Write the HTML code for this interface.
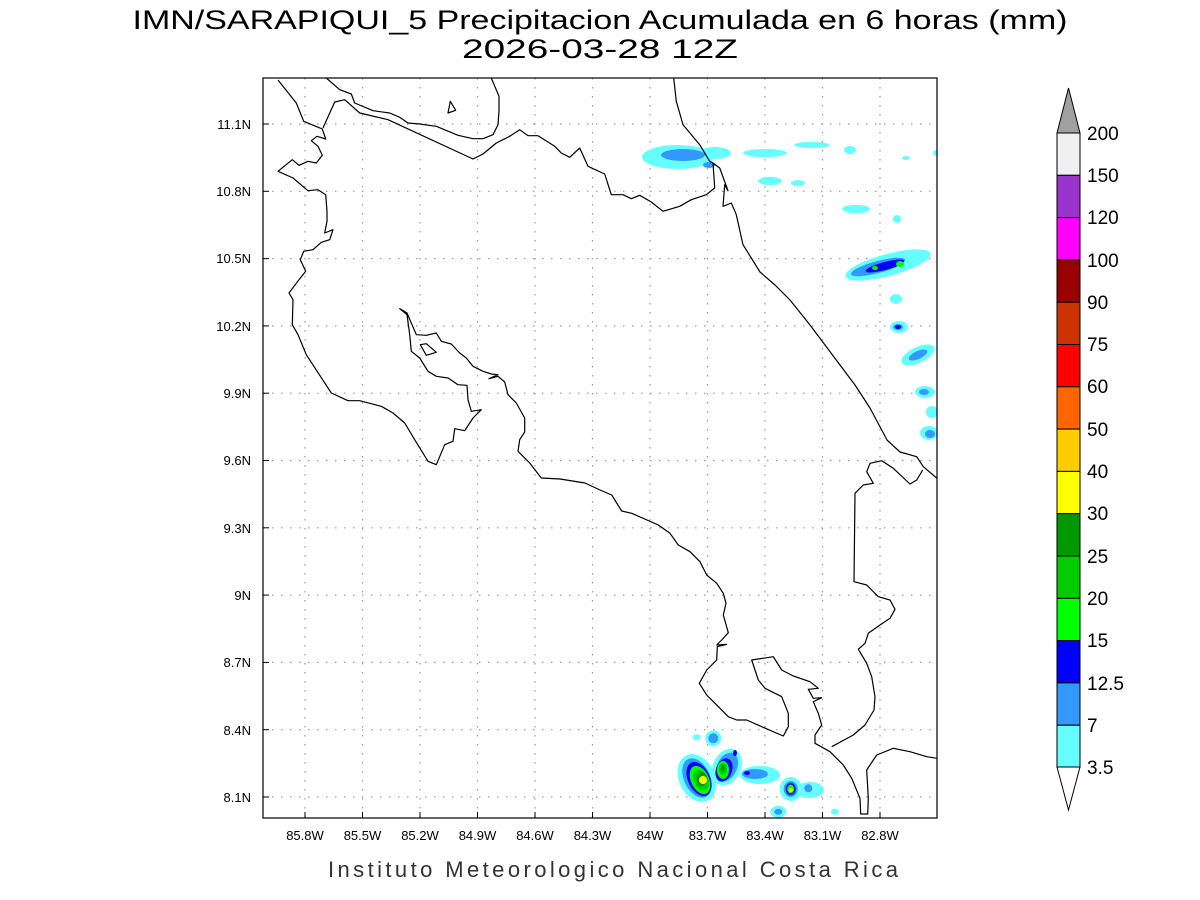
<!DOCTYPE html>
<html><head><meta charset="utf-8"><style>
html,body{margin:0;padding:0;background:#fff;}
svg{display:block;}
text{font-family:"Liberation Sans",sans-serif;}
</style></head><body>
<svg width="1200" height="900" viewBox="0 0 1200 900" xmlns="http://www.w3.org/2000/svg">
<rect width="1200" height="900" fill="#fff"/>
<text x="600" y="29" text-anchor="middle" font-size="27" fill="#000" textLength="935" lengthAdjust="spacingAndGlyphs">IMN/SARAPIQUI_5 Precipitacion Acumulada en 6 horas (mm)</text>
<text x="600" y="58" text-anchor="middle" font-size="27" fill="#000" textLength="276" lengthAdjust="spacingAndGlyphs">2026-03-28 12Z</text>
<defs><clipPath id="c"><rect x="263" y="78" width="674" height="740"/></clipPath></defs>
<g clip-path="url(#c)">
<!-- grid -->
<g stroke="#9a9a9a" stroke-width="1.2" stroke-dasharray="1.5,7.5">
<line x1="305" y1="78" x2="305" y2="818"/><line x1="362.5" y1="78" x2="362.5" y2="818"/><line x1="420" y1="78" x2="420" y2="818"/><line x1="477.5" y1="78" x2="477.5" y2="818"/><line x1="535" y1="78" x2="535" y2="818"/><line x1="592.5" y1="78" x2="592.5" y2="818"/><line x1="650" y1="78" x2="650" y2="818"/><line x1="707.5" y1="78" x2="707.5" y2="818"/><line x1="765" y1="78" x2="765" y2="818"/><line x1="822.5" y1="78" x2="822.5" y2="818"/><line x1="880" y1="78" x2="880" y2="818"/>
<line x1="263" y1="124" x2="937" y2="124"/><line x1="263" y1="191.3" x2="937" y2="191.3"/><line x1="263" y1="258.6" x2="937" y2="258.6"/><line x1="263" y1="325.9" x2="937" y2="325.9"/><line x1="263" y1="393.2" x2="937" y2="393.2"/><line x1="263" y1="460.5" x2="937" y2="460.5"/><line x1="263" y1="527.8" x2="937" y2="527.8"/><line x1="263" y1="595.1" x2="937" y2="595.1"/><line x1="263" y1="662.4" x2="937" y2="662.4"/><line x1="263" y1="729.7" x2="937" y2="729.7"/><line x1="263" y1="797" x2="937" y2="797"/>
</g>
<!-- precip -->
<g fill="#66ffff">
<ellipse cx="678" cy="157" rx="36" ry="12"/><ellipse cx="715" cy="153" rx="16" ry="6"/>
<ellipse cx="765" cy="153" rx="22" ry="4"/><ellipse cx="812" cy="145" rx="18" ry="3"/><ellipse cx="850" cy="150" rx="6" ry="4"/>
<ellipse cx="770" cy="181" rx="12" ry="4"/><ellipse cx="798" cy="183" rx="7" ry="3"/>
<ellipse cx="856" cy="209" rx="14" ry="4"/><ellipse cx="897" cy="219" rx="4" ry="4"/><ellipse cx="906" cy="158" rx="4" ry="2"/><ellipse cx="936" cy="153" rx="3" ry="3"/>
<ellipse cx="888" cy="265" rx="44" ry="11" transform="rotate(-15 888 265)"/>
<ellipse cx="896" cy="299" rx="6" ry="5"/><ellipse cx="899" cy="327" rx="9" ry="6"/>
<ellipse cx="918" cy="355" rx="18" ry="8" transform="rotate(-25 918 355)"/>
<ellipse cx="925" cy="392" rx="10" ry="6"/><ellipse cx="932" cy="412" rx="6" ry="6"/><ellipse cx="929" cy="433" rx="9" ry="7"/>
<ellipse cx="696.7" cy="737.3" rx="4" ry="3"/><ellipse cx="713.3" cy="738.3" rx="8" ry="8"/>
<ellipse cx="697" cy="778" rx="18" ry="25" transform="rotate(-25 697 778)"/>
<ellipse cx="727" cy="767" rx="14" ry="19" transform="rotate(25 727 767)"/>
<ellipse cx="760" cy="775" rx="20" ry="9"/>
<ellipse cx="790.7" cy="789" rx="11" ry="12"/><ellipse cx="810" cy="790" rx="14" ry="8"/>
<ellipse cx="778.3" cy="811.7" rx="8" ry="6"/><ellipse cx="835" cy="811.7" rx="4" ry="3"/>
</g>
<g fill="#3399ff">
<ellipse cx="683" cy="155" rx="22" ry="6"/><ellipse cx="709" cy="165" rx="6" ry="3"/>
<ellipse cx="878" cy="267" rx="28" ry="6" transform="rotate(-15 878 267)"/>
<ellipse cx="898" cy="327" rx="5" ry="3"/><ellipse cx="918" cy="355" rx="10" ry="4" transform="rotate(-25 918 355)"/>
<ellipse cx="924" cy="392" rx="5" ry="3"/><ellipse cx="930" cy="434" rx="5" ry="4"/>
<ellipse cx="713.3" cy="738.3" rx="5" ry="5"/>
<ellipse cx="697" cy="778" rx="13" ry="21" transform="rotate(-25 697 778)"/>
<ellipse cx="727" cy="767" rx="10" ry="15" transform="rotate(25 727 767)"/>
<ellipse cx="755" cy="774" rx="13" ry="5"/>
<ellipse cx="790.7" cy="789" rx="7" ry="8"/><ellipse cx="808.3" cy="788.3" rx="4" ry="4"/><ellipse cx="778.3" cy="811.7" rx="4" ry="3"/>
</g>
<g fill="#0000ff">
<ellipse cx="885" cy="266" rx="20" ry="4" transform="rotate(-15 885 266)"/><ellipse cx="898" cy="327" rx="3" ry="2"/>
<ellipse cx="699" cy="779" rx="11" ry="18" transform="rotate(-25 699 779)"/>
<ellipse cx="724" cy="770" rx="8" ry="12" transform="rotate(20 724 770)"/><ellipse cx="735" cy="753" rx="2" ry="3"/>
<ellipse cx="747" cy="773" rx="3" ry="2"/><ellipse cx="790.7" cy="789" rx="5" ry="6"/>
</g>
<g fill="#00ff00"><ellipse cx="875" cy="268" rx="3" ry="2"/><ellipse cx="900" cy="264" rx="4" ry="3"/>
<ellipse cx="700" cy="780" rx="9" ry="15" transform="rotate(-25 700 780)"/><ellipse cx="723" cy="770" rx="6" ry="9"/><ellipse cx="790.7" cy="789" rx="3.5" ry="4.5"/></g>
<g fill="#00cc00"><ellipse cx="701" cy="780" rx="7" ry="11" transform="rotate(-25 701 780)"/><ellipse cx="723" cy="769" rx="4" ry="6"/></g>
<g fill="#009900"><ellipse cx="702" cy="779" rx="5" ry="7"/><ellipse cx="723" cy="768" rx="2" ry="3"/></g>
<g fill="#ffff00"><ellipse cx="703" cy="780" rx="4" ry="4"/><ellipse cx="791" cy="790" rx="2" ry="2"/></g>
<!-- coastlines -->
<g fill="none" stroke="#000" stroke-width="1.2" stroke-linejoin="round">
<polyline points="278,80 296.3,103 303.7,121.3 322.3,129 325.7,139 317,136.3 311.3,140.7 318,146.3 322.3,155.3 316.3,163 308,161.3 299,165.3 292.3,159.7 278,171.3 293,178 308,190.7 318,189.7 325.7,194.7 327,211.3 327,221.3 324.7,233 333,229.7 329.7,239.7 321.3,242.3 313,249.7 303.7,251.3 300.3,259.7 305.7,271.3 299,279.7 289,293 293,299.7 292.3,324.7 298,334.7 306.3,354.7 331.3,393 348,400.7 359.7,400.7 381.3,406.3 393,413 404.7,423 414.7,439.7 428,461.3 436.3,464.7 444.7,444.7 453,441.3 454.7,428.7 464.7,430.7 473,418 481.3,409.7 471.3,411.3 468,399.7 467,385.3 458,384.7 448,378 436.3,376.3 428,371.3 419.7,358 411.3,351.3 409.7,334.7 407,314.7 399.7,308.7 407,313 416.3,334.7 426.3,335.3 436.3,333 441.3,341.3 451.3,344 459.7,353 466.3,358 473,366.3 483,371.3 491.3,374 498,374.7 489,378.7 498,376.3 504.7,382 508,394.7 516.3,403 524.7,418 524.7,432 519.7,439.7 518,451.3 529.7,463 541.3,478 560,479 585,483 600,490 611.7,495 621.7,511 631.7,513.3 658.3,525 670,533.3 678.3,545 690,551.7 700,561.7 706.7,575 716.7,583.3 723.3,593.3 726,603.3 723.3,615 728.3,632.7 721.7,640 716.7,645 726.7,644.3 717.3,646.7 716.7,660 706.7,670 699.3,683.3 706.7,695 715,703.3 728.3,716.7 736.7,720 746.7,720 761.7,726.7 783.3,736 788.3,726.7 788.3,713.3 781.7,696.7 765,688.3 758.3,680 751.7,660 773.3,656.7 781.7,670 793.3,676 810,681.7 818.3,688.3 808.3,689.3 813.3,698.3 821.7,697.7 813.3,701.7 818.3,713.3 821.7,725 815,735 815,743.3 830,751.7 843.3,765 851.7,778.3 860,798.3 860.7,814 867.7,814 868.3,798.3 866.7,770 876.7,755 893.3,748.3 910,751.7 926.7,756.7 937,758.3"/>
<polyline points="831.7,746.7 853.3,735 865,725 874,710 875,696.7 871.7,676.7 866.7,663.3 858.3,649.3 865,643.3 868.3,633.3 880,625 890,618.3 895,609.3 890,600 878.3,596.7 866.7,585 854,581.7 855,493.3 863.3,485 873.3,483.3 866.7,471.7 870,463.3 881.7,460.7 893.3,468.3 910,484 916.7,480 922.7,470"/>
<polyline points="713,163 719.7,168 728,190.7 724.7,184.7 723,206.3 731.3,203 736.3,214.7 743,244.7 760,272 775,285 790,300 810,325 825,345 840,365 855,385 870,408 887,440 900,452 916.7,456.7 923.3,466.7 937,478.3"/>
<polyline points="323,128 334.7,102 344.7,99.7 359.7,113 388,119.7 473,159 483,154 496.3,143 509.7,136.3 519.7,129.7 528,135.7 538,135.7 554.7,146.3 561.3,153 569.7,157.3 579.7,148 588,166.3 604.7,174 611.3,194.7 623,194.7 631.3,198.7 639.7,195.3 651.3,202 663,211.3 679.7,206.3 691.3,199.7 706.3,194.7 714.7,188 713,163 709.7,161.3 699.7,144.7 683,124.7 676.3,101.3 673.7,78"/>
<polyline points="326.3,78 339.7,89.7 351.3,94 354.7,103 373,110.7 389.7,113 399.7,117.3 408,123 419.7,124 436.3,126.3 458,135.3 473,138.7 483,138.7 493,134.7 498,124.7 499,111.3 499,96.3 491.3,78"/>
<polygon points="448,113 450.3,101.3 455.7,110.3"/>
<polygon points="420.3,344.7 426.3,343.7 436.3,352.3 426.3,355.3"/>
</g>
</g>
<rect x="263" y="78" width="674" height="740" fill="none" stroke="#000" stroke-width="1.2"/>
<!-- ticks -->
<g stroke="#000" stroke-width="1">
<line x1="305" y1="818" x2="305" y2="812"/><line x1="362.5" y1="818" x2="362.5" y2="812"/><line x1="420" y1="818" x2="420" y2="812"/><line x1="477.5" y1="818" x2="477.5" y2="812"/><line x1="535" y1="818" x2="535" y2="812"/><line x1="592.5" y1="818" x2="592.5" y2="812"/><line x1="650" y1="818" x2="650" y2="812"/><line x1="707.5" y1="818" x2="707.5" y2="812"/><line x1="765" y1="818" x2="765" y2="812"/><line x1="822.5" y1="818" x2="822.5" y2="812"/><line x1="880" y1="818" x2="880" y2="812"/>
<line x1="263" y1="124" x2="269" y2="124"/><line x1="263" y1="191.3" x2="269" y2="191.3"/><line x1="263" y1="258.6" x2="269" y2="258.6"/><line x1="263" y1="325.9" x2="269" y2="325.9"/><line x1="263" y1="393.2" x2="269" y2="393.2"/><line x1="263" y1="460.5" x2="269" y2="460.5"/><line x1="263" y1="527.8" x2="269" y2="527.8"/><line x1="263" y1="595.1" x2="269" y2="595.1"/><line x1="263" y1="662.4" x2="269" y2="662.4"/><line x1="263" y1="729.7" x2="269" y2="729.7"/><line x1="263" y1="797" x2="269" y2="797"/>
</g>
<g font-size="13" text-anchor="middle" fill="#000">
<text x="305" y="840">85.8W</text><text x="362.5" y="840">85.5W</text><text x="420" y="840">85.2W</text><text x="477.5" y="840">84.9W</text><text x="535" y="840">84.6W</text><text x="592.5" y="840">84.3W</text><text x="650" y="840">84W</text><text x="707.5" y="840">83.7W</text><text x="765" y="840">83.4W</text><text x="822.5" y="840">83.1W</text><text x="880" y="840">82.8W</text>
</g>
<g font-size="13" text-anchor="end" fill="#000">
<text x="251" y="129">11.1N</text><text x="251" y="196">10.8N</text><text x="251" y="263">10.5N</text><text x="251" y="331">10.2N</text><text x="251" y="398">9.9N</text><text x="251" y="465">9.6N</text><text x="251" y="533">9.3N</text><text x="251" y="600">9N</text><text x="251" y="667">8.7N</text><text x="251" y="735">8.4N</text><text x="251" y="802">8.1N</text>
</g>
<text x="613" y="877" text-anchor="middle" font-size="22" fill="#333" textLength="570" lengthAdjust="spacing">Instituto Meteorologico Nacional Costa Rica</text>
<!-- colorbar -->
<g stroke="#000" stroke-width="1">
<polygon points="1057,133 1080,133 1068.5,88" fill="#a0a0a0"/>
<rect x="1057" y="133" width="23" height="42.3" fill="#f0f0f0"/>
<rect x="1057" y="175.3" width="23" height="42.3" fill="#9933cc"/>
<rect x="1057" y="217.6" width="23" height="42.3" fill="#ff00ff"/>
<rect x="1057" y="259.9" width="23" height="42.3" fill="#990000"/>
<rect x="1057" y="302.2" width="23" height="42.3" fill="#cc3300"/>
<rect x="1057" y="344.5" width="23" height="42.3" fill="#ff0000"/>
<rect x="1057" y="386.8" width="23" height="42.3" fill="#ff6600"/>
<rect x="1057" y="429.1" width="23" height="42.3" fill="#ffcc00"/>
<rect x="1057" y="471.4" width="23" height="42.3" fill="#ffff00"/>
<rect x="1057" y="513.7" width="23" height="42.3" fill="#009900"/>
<rect x="1057" y="556" width="23" height="42.3" fill="#00cc00"/>
<rect x="1057" y="598.3" width="23" height="42.3" fill="#00ff00"/>
<rect x="1057" y="640.6" width="23" height="42.3" fill="#0000ff"/>
<rect x="1057" y="682.9" width="23" height="42.3" fill="#3399ff"/>
<rect x="1057" y="725.2" width="23" height="42" fill="#66ffff"/>
<polygon points="1057,767 1080,767 1068.5,810" fill="#fff"/>
</g>
<g font-size="19" fill="#000">
<text x="1087" y="140">200</text><text x="1087" y="182">150</text><text x="1087" y="224">120</text><text x="1087" y="267">100</text><text x="1087" y="309">90</text><text x="1087" y="351">75</text><text x="1087" y="393">60</text><text x="1087" y="436">50</text><text x="1087" y="478">40</text><text x="1087" y="520">30</text><text x="1087" y="563">25</text><text x="1087" y="605">20</text><text x="1087" y="647">15</text><text x="1087" y="690">12.5</text><text x="1087" y="732">7</text><text x="1087" y="774">3.5</text>
</g>
</svg>
</body></html>
